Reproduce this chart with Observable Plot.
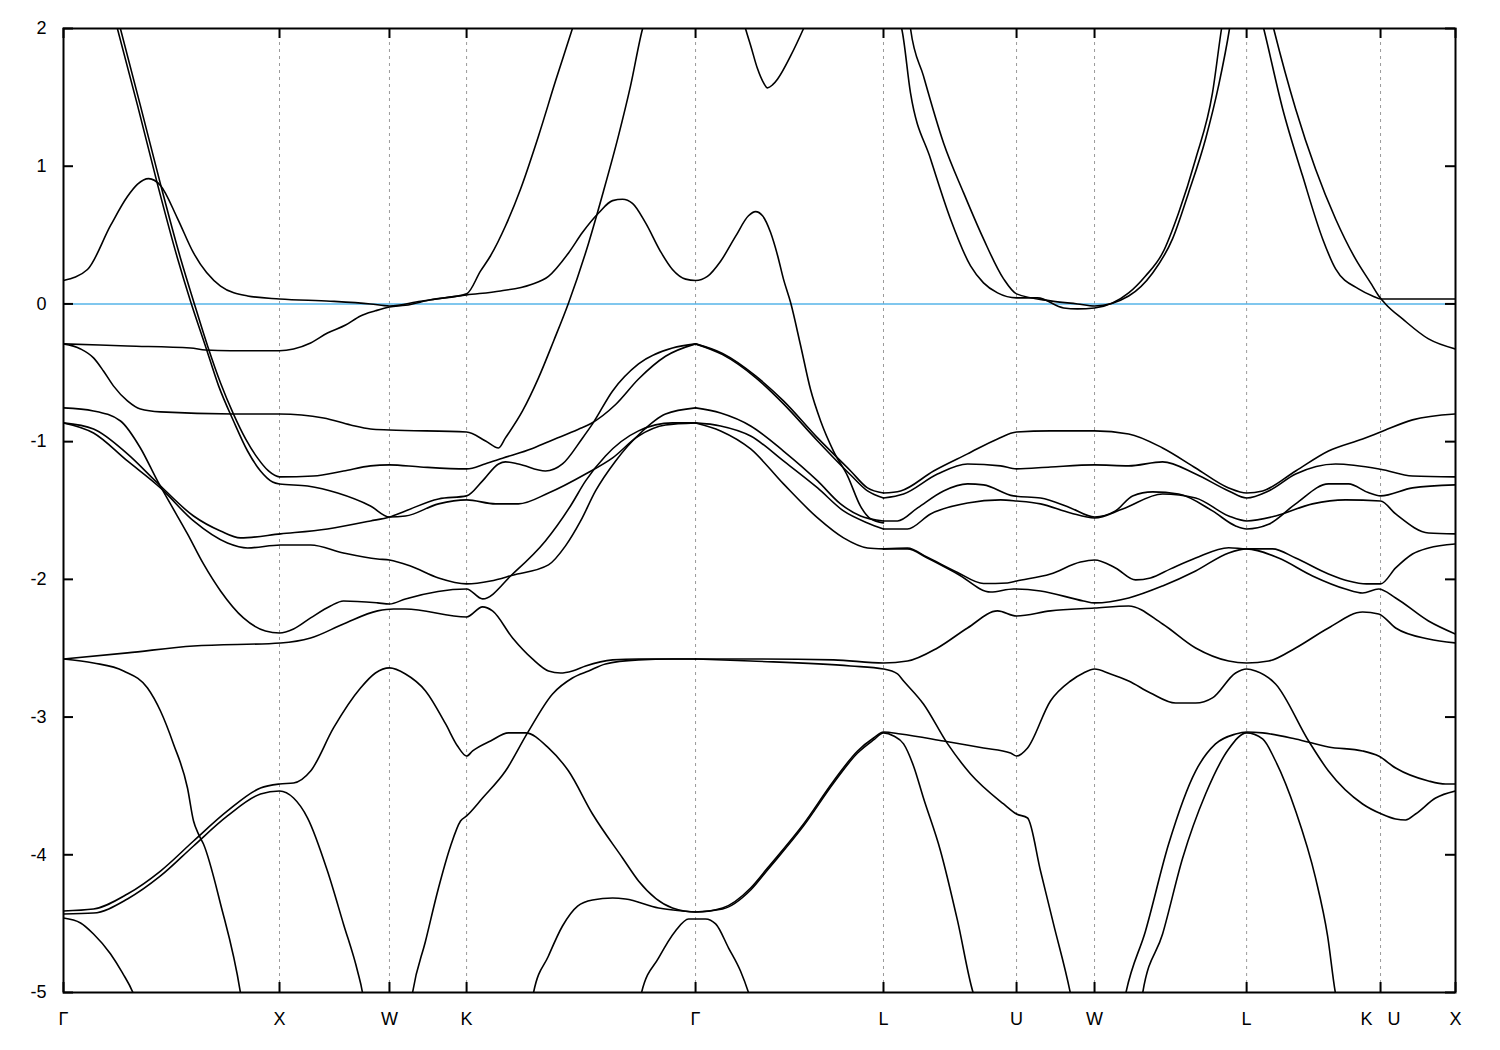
<!DOCTYPE html>
<html><head><meta charset="utf-8">
<script src="https://cdn.jsdelivr.net/npm/d3@7"></script>
<script src="https://cdn.jsdelivr.net/npm/@observablehq/plot@0.6"></script>
<style>body{margin:0;background:#fff;}</style>
</head><body><div id="chart"></div>
<script>
// High-symmetry points along the k-path (units of 2π/a) and labels
const kTicks = [0, 1.0, 1.509, 1.866, 2.926, 3.796, 4.412, 4.773, 5.477, 6.097, 6.444];
const kLabels = ["Γ","X","W","K","Γ","L","U","W","L","K\u00a0\u00a0\u00a0U","X"];
const eTicks = [-5,-4,-3,-2,-1,0,1,2];
const fermiLevel = [0];

// Bands: [k, E (eV)]
const L1 = [[0,0.17],[0.111,0.25],[0.218,0.57],[0.296,0.78],[0.343,0.87],[0.394,0.91],[0.449,0.86],[0.528,0.62],[0.602,0.37],[0.727,0.13],[0.852,0.058],[1.0,0.036],[1.236,0.02],[1.421,0.0],[1.509,-0.015],[1.653,0.02],[1.792,0.05],[1.866,0.065],[2.023,0.094],[2.162,0.14],[2.245,0.2],[2.338,0.37],[2.403,0.52],[2.477,0.66],[2.542,0.75],[2.588,0.76],[2.634,0.73],[2.694,0.59],[2.764,0.38],[2.819,0.25],[2.88,0.18],[2.926,0.17],[2.981,0.2],[3.042,0.31],[3.111,0.49],[3.171,0.64],[3.204,0.67],[3.236,0.64],[3.273,0.52],[3.306,0.35],[3.333,0.18],[3.366,0.01],[3.412,-0.3],[3.458,-0.62],[3.505,-0.85],[3.565,-1.07],[3.63,-1.25],[3.69,-1.47],[3.736,-1.56],[3.796,-1.59]];
const S1 = [[0.255,2.05],[0.356,1.44],[0.449,0.87],[0.542,0.33],[0.602,0.02],[0.667,-0.305],[0.727,-0.574],[0.787,-0.8],[0.843,-0.98],[0.898,-1.118],[0.949,-1.213],[1.0,-1.256],[1.157,-1.249],[1.296,-1.213],[1.421,-1.176],[1.509,-1.169],[1.653,-1.184],[1.866,-1.198],[1.954,-1.16],[2.032,-1.12],[2.171,-1.05],[2.245,-1.0],[2.384,-0.91],[2.44,-0.87],[2.556,-0.73],[2.662,-0.545],[2.787,-0.38],[2.926,-0.29]];
const S2 = [[0.241,2.05],[0.343,1.44],[0.435,0.87],[0.528,0.33],[0.588,0.02],[0.657,-0.305],[0.718,-0.595],[0.787,-0.85],[0.852,-1.068],[0.912,-1.213],[0.968,-1.293],[1.0,-1.307],[1.13,-1.322],[1.269,-1.373],[1.421,-1.467],[1.509,-1.547],[1.583,-1.54],[1.736,-1.452],[1.866,-1.423],[2.0,-1.452],[2.106,-1.452],[2.245,-1.373],[2.417,-1.235],[2.542,-1.118],[2.662,-0.959],[2.787,-0.879],[2.926,-0.864]];
const F1 = [[0,-0.29],[0.296,-0.305],[0.588,-0.32],[0.657,-0.334],[0.773,-0.34],[1.0,-0.34],[1.065,-0.327],[1.144,-0.283],[1.222,-0.211],[1.306,-0.153],[1.375,-0.087],[1.444,-0.05],[1.509,-0.022],[1.583,-0.01],[1.699,0.03],[1.866,0.073],[1.931,0.24],[1.977,0.35],[2.046,0.566],[2.116,0.835],[2.199,1.22],[2.278,1.62],[2.356,2.0],[2.366,2.05]];
const G1 = [[0,-0.29],[0.079,-0.327],[0.139,-0.392],[0.185,-0.487],[0.231,-0.595],[0.296,-0.704],[0.356,-0.763],[0.449,-0.784],[0.787,-0.799],[1.0,-0.799],[1.204,-0.828],[1.329,-0.879],[1.421,-0.908],[1.509,-0.915],[1.866,-0.93],[1.954,-0.995],[2.014,-1.046],[2.046,-0.973],[2.125,-0.777],[2.199,-0.537],[2.269,-0.269],[2.338,0.007],[2.431,0.443],[2.5,0.82],[2.569,1.22],[2.625,1.583],[2.681,2.0],[2.69,2.05]];
const M1 = [[0,-0.755],[0.139,-0.777],[0.264,-0.85],[0.356,-1.046],[0.435,-1.285],[0.495,-1.452],[0.574,-1.67],[0.648,-1.888],[0.727,-2.084],[0.833,-2.28],[0.935,-2.375],[1.0,-2.389],[1.065,-2.36],[1.144,-2.28],[1.236,-2.193],[1.296,-2.157],[1.454,-2.171],[1.509,-2.179],[1.583,-2.142],[1.866,-2.07],[1.94,-2.142],[2.079,-1.961],[2.231,-1.721],[2.347,-1.467],[2.417,-1.285],[2.509,-1.104],[2.662,-0.922],[2.819,-0.864],[2.926,-0.864]];
const N1 = [[0,-0.864],[0.139,-0.908],[0.296,-1.089],[0.435,-1.3],[0.602,-1.54],[0.727,-1.649],[0.819,-1.699],[1.005,-1.67],[1.222,-1.634],[1.421,-1.576],[1.509,-1.547],[1.583,-1.503],[1.736,-1.416],[1.866,-1.394],[1.94,-1.285],[2.014,-1.162],[2.046,-1.147],[2.106,-1.162],[2.231,-1.213],[2.31,-1.162],[2.403,-0.973],[2.449,-0.871],[2.542,-0.632],[2.662,-0.436],[2.819,-0.32],[2.926,-0.29]];
const N2 = [[0,-0.864],[0.139,-0.937],[0.296,-1.14],[0.449,-1.336],[0.602,-1.576],[0.759,-1.736],[0.852,-1.772],[1.005,-1.75],[1.144,-1.75],[1.296,-1.808],[1.454,-1.852],[1.509,-1.859],[1.606,-1.903],[1.736,-1.99],[1.866,-2.033],[1.977,-2.012],[2.079,-1.97],[2.245,-1.895],[2.324,-1.757],[2.394,-1.576],[2.463,-1.358],[2.556,-1.14],[2.671,-0.937],[2.787,-0.799],[2.926,-0.755]];
const FL = [[0,-2.578],[0.296,-2.534],[0.602,-2.484],[1.005,-2.462],[1.144,-2.426],[1.296,-2.324],[1.454,-2.229],[1.528,-2.215],[1.583,-2.215],[1.866,-2.273],[1.94,-2.2],[1.986,-2.229],[2.079,-2.426],[2.171,-2.578],[2.245,-2.665],[2.301,-2.68],[2.356,-2.665],[2.417,-2.629],[2.542,-2.585],[2.662,-2.578],[2.926,-2.578]];
const D1 = [[0,-2.578],[0.139,-2.607],[0.278,-2.665],[0.389,-2.789],[0.449,-2.956],[0.509,-3.195],[0.574,-3.515],[0.602,-3.755],[0.625,-3.85],[0.648,-3.922],[0.727,-4.357],[0.819,-5.0],[0.824,-5.05]];
const P1 = [[0,-4.408],[0.139,-4.394],[0.296,-4.285],[0.449,-4.118],[0.602,-3.9],[0.759,-3.682],[0.912,-3.515],[1.0,-3.486],[1.065,-3.479],[1.144,-3.392],[1.25,-3.079],[1.375,-2.789],[1.444,-2.68],[1.509,-2.643],[1.583,-2.687],[1.676,-2.81],[1.769,-3.05],[1.824,-3.21],[1.866,-3.283],[1.894,-3.246],[1.977,-3.174],[2.06,-3.115],[2.139,-3.115],[2.245,-3.224],[2.338,-3.392],[2.449,-3.704],[2.588,-4.023],[2.662,-4.19],[2.819,-4.386],[2.926,-4.415],[3.051,-4.386],[3.181,-4.241],[3.259,-4.096],[3.426,-3.776],[3.565,-3.464],[3.676,-3.246],[3.75,-3.152],[3.796,-3.108],[3.875,-3.123],[4.074,-3.174],[4.259,-3.224],[4.384,-3.261],[4.412,-3.283],[4.463,-3.224],[4.569,-2.883],[4.662,-2.738],[4.722,-2.68],[4.773,-2.651],[4.847,-2.687],[4.931,-2.738],[5.032,-2.825],[5.148,-2.898],[5.241,-2.898],[5.319,-2.861],[5.426,-2.68],[5.477,-2.651],[5.519,-2.665],[5.611,-2.76],[5.764,-3.174],[5.856,-3.392],[6.014,-3.631],[6.102,-3.704],[6.167,-3.74],[6.213,-3.747],[6.259,-3.704],[6.352,-3.588],[6.444,-3.537]];
const P2 = [[0,-4.43],[0.139,-4.423],[0.296,-4.321],[0.449,-4.154],[0.602,-3.936],[0.759,-3.718],[0.912,-3.559],[1.0,-3.537],[1.065,-3.588],[1.13,-3.733],[1.222,-4.118],[1.296,-4.502],[1.361,-4.844],[1.384,-5.0],[1.389,-5.05]];
const R1 = [[1.611,-5.05],[1.616,-5.0],[1.676,-4.626],[1.736,-4.241],[1.792,-3.936],[1.838,-3.755],[1.866,-3.718],[1.94,-3.588],[2.046,-3.392],[2.148,-3.115],[2.264,-2.832],[2.356,-2.716],[2.431,-2.665],[2.509,-2.614],[2.662,-2.585],[2.819,-2.578],[2.926,-2.578]];
const Q1 = [[2.171,-5.05],[2.176,-5.0],[2.245,-4.735],[2.31,-4.517],[2.38,-4.372],[2.449,-4.328],[2.542,-4.314],[2.602,-4.321],[2.755,-4.386],[2.866,-4.408],[2.926,-4.415],[3.051,-4.394],[3.181,-4.256],[3.259,-4.11],[3.426,-3.79],[3.565,-3.479],[3.676,-3.261],[3.75,-3.166],[3.796,-3.115],[3.843,-3.137],[3.889,-3.195],[3.935,-3.355],[3.981,-3.588],[4.06,-3.972],[4.139,-4.48],[4.213,-5.011],[4.222,-5.05]];
const GC = [[2.671,-5.05],[2.676,-5.0],[2.755,-4.749],[2.833,-4.553],[2.894,-4.466],[2.935,-4.466],[2.972,-4.466],[3.019,-4.502],[3.079,-4.677],[3.134,-4.844],[3.171,-5.0],[3.181,-5.05]];
const B45 = [[0,-4.459],[0.079,-4.495],[0.139,-4.575],[0.218,-4.72],[0.273,-4.858],[0.324,-5.011],[0.333,-5.05]];
const TOPR = [[3.148,2.05],[3.157,2.0],[3.181,1.877],[3.213,1.707],[3.241,1.605],[3.259,1.569],[3.282,1.59],[3.306,1.634],[3.366,1.801],[3.426,2.0],[3.44,2.05]];
const TA = [[3.87,2.05],[3.88,2.0],[3.921,1.532],[4.014,1.053],[4.106,0.617],[4.199,0.276],[4.259,0.153],[4.324,0.08],[4.412,0.044],[4.509,0.044],[4.63,-0.029],[4.694,-0.036],[4.773,-0.029],[4.856,0.007],[4.931,0.08],[5.009,0.203],[5.088,0.37],[5.162,0.661],[5.241,1.053],[5.319,1.532],[5.361,2.0],[5.366,2.05]];
const TB = [[3.917,2.05],[3.921,2.0],[3.981,1.656],[4.074,1.169],[4.167,0.806],[4.259,0.472],[4.352,0.182],[4.412,0.073],[4.569,0.022],[4.694,0.0],[4.773,-0.015],[4.931,0.058],[5.042,0.225],[5.134,0.472],[5.208,0.806],[5.287,1.198],[5.347,1.583],[5.398,2.0],[5.403,2.05]];
const TC = [[5.548,2.05],[5.556,2.0],[5.644,1.416],[5.736,0.93],[5.829,0.472],[5.889,0.254],[5.995,0.109],[6.06,0.058],[6.1,0.036],[6.444,0.036]];
const TD = [[5.594,2.05],[5.602,2.0],[5.704,1.416],[5.796,0.98],[5.889,0.617],[5.981,0.327],[6.051,0.153],[6.088,0.06],[6.12,0.0],[6.199,-0.109],[6.319,-0.254],[6.444,-0.327]];
const DA = [[2.926,-0.29],[3.051,-0.36],[3.204,-0.523],[3.333,-0.704],[3.491,-0.973],[3.644,-1.213],[3.722,-1.336],[3.796,-1.373]];
const DB = [[2.926,-0.29],[3.051,-0.368],[3.204,-0.535],[3.333,-0.726],[3.491,-0.995],[3.644,-1.242],[3.722,-1.358],[3.796,-1.409]];
const DC = [[2.926,-0.755],[3.042,-0.792],[3.181,-0.886],[3.333,-1.068],[3.491,-1.285],[3.597,-1.452],[3.69,-1.54],[3.796,-1.576]];
const DD = [[2.926,-0.864],[3.042,-0.886],[3.181,-0.959],[3.333,-1.14],[3.491,-1.336],[3.611,-1.503],[3.722,-1.59],[3.796,-1.634]];
const DE = [[2.926,-0.864],[3.042,-0.922],[3.181,-1.053],[3.333,-1.307],[3.491,-1.554],[3.611,-1.699],[3.722,-1.772],[3.796,-1.779]];
const LA = [[3.796,-1.373],[3.875,-1.358],[4.028,-1.213],[4.185,-1.089],[4.324,-0.98],[4.412,-0.93],[4.569,-0.922],[4.773,-0.922],[4.931,-0.944],[5.088,-1.046],[5.241,-1.191],[5.394,-1.336],[5.477,-1.373],[5.551,-1.358],[5.704,-1.213],[5.856,-1.068],[6.014,-0.98],[6.097,-0.93],[6.245,-0.842],[6.444,-0.799]];
const LB = [[3.796,-1.409],[3.889,-1.38],[4.046,-1.235],[4.185,-1.162],[4.338,-1.176],[4.412,-1.198],[4.569,-1.184],[4.773,-1.169],[4.931,-1.176],[5.088,-1.147],[5.241,-1.235],[5.394,-1.358],[5.477,-1.409],[5.579,-1.358],[5.704,-1.235],[5.889,-1.162],[6.097,-1.2],[6.245,-1.249],[6.444,-1.256]];
const LC = [[3.796,-1.576],[3.861,-1.576],[3.954,-1.481],[4.074,-1.358],[4.185,-1.307],[4.259,-1.314],[4.398,-1.394],[4.523,-1.409],[4.662,-1.481],[4.773,-1.547],[4.87,-1.503],[4.949,-1.394],[5.042,-1.365],[5.162,-1.38],[5.319,-1.503],[5.426,-1.612],[5.477,-1.634],[5.579,-1.6],[5.704,-1.452],[5.856,-1.307],[5.949,-1.307],[6.04,-1.37],[6.097,-1.394],[6.245,-1.336],[6.444,-1.314]];
const LD = [[3.796,-1.634],[3.907,-1.634],[4.014,-1.525],[4.185,-1.445],[4.338,-1.423],[4.412,-1.431],[4.523,-1.452],[4.662,-1.518],[4.773,-1.554],[4.903,-1.489],[5.088,-1.38],[5.241,-1.409],[5.394,-1.54],[5.477,-1.576],[5.611,-1.54],[5.782,-1.452],[5.935,-1.423],[6.097,-1.431],[6.167,-1.525],[6.319,-1.663],[6.444,-1.67]];
const LE = [[3.796,-1.779],[3.907,-1.772],[3.999,-1.84],[4.139,-1.95],[4.259,-2.03],[4.37,-2.026],[4.412,-2.012],[4.569,-1.961],[4.708,-1.874],[4.773,-1.859],[4.87,-1.917],[4.963,-2.004],[5.032,-1.99],[5.125,-1.924],[5.241,-1.845],[5.394,-1.77],[5.477,-1.779],[5.597,-1.779],[5.704,-1.845],[5.856,-1.961],[5.949,-2.012],[6.032,-2.033],[6.097,-2.033],[6.167,-1.917],[6.245,-1.816],[6.319,-1.772],[6.444,-1.743]];
const LF = [[3.796,-1.779],[3.907,-1.779],[3.999,-1.845],[4.139,-1.961],[4.292,-2.092],[4.398,-2.07],[4.523,-2.084],[4.722,-2.157],[4.773,-2.171],[4.931,-2.135],[5.088,-2.048],[5.241,-1.939],[5.394,-1.808],[5.477,-1.779],[5.625,-1.845],[5.782,-1.975],[5.935,-2.07],[6.014,-2.099],[6.088,-2.07],[6.167,-2.135],[6.319,-2.302],[6.444,-2.397]];
const U1 = [[2.926,-2.578],[3.181,-2.578],[3.565,-2.585],[3.796,-2.607],[3.907,-2.593],[4.046,-2.498],[4.185,-2.353],[4.324,-2.229],[4.412,-2.266],[4.569,-2.229],[4.773,-2.208],[4.931,-2.193],[5.088,-2.324],[5.241,-2.498],[5.394,-2.593],[5.477,-2.607],[5.579,-2.593],[5.704,-2.498],[5.856,-2.353],[6.014,-2.237],[6.088,-2.251],[6.167,-2.353],[6.319,-2.433],[6.444,-2.462]];
const U2 = [[2.926,-2.578],[3.181,-2.593],[3.644,-2.629],[3.796,-2.651],[3.861,-2.687],[3.889,-2.738],[3.981,-2.905],[4.093,-3.195],[4.199,-3.413],[4.352,-3.631],[4.412,-3.704],[4.463,-3.733],[4.523,-4.118],[4.583,-4.502],[4.662,-5.011],[4.667,-5.05]];
const RA = [[4.912,-5.05],[4.917,-5.011],[5.009,-4.553],[5.116,-3.922],[5.241,-3.392],[5.333,-3.195],[5.426,-3.123],[5.477,-3.108],[5.551,-3.115],[5.704,-3.159],[5.856,-3.217],[6.014,-3.246],[6.088,-3.283],[6.167,-3.37],[6.319,-3.464],[6.398,-3.486],[6.444,-3.486]];
const RB = [[4.991,-5.05],[4.995,-5.011],[5.088,-4.575],[5.181,-4.023],[5.287,-3.559],[5.394,-3.232],[5.477,-3.115],[5.551,-3.159],[5.611,-3.319],[5.704,-3.682],[5.796,-4.168],[5.852,-4.59],[5.889,-5.011],[5.894,-5.05]];

const bandTable = Object.entries({L1,S1,S2,F1,G1,M1,N1,N2,FL,D1,P1,P2,R1,Q1,GC,B45,TOPR,TA,TB,TC,TD,DA,DB,DC,DD,DE,LA,LB,LC,LD,LE,LF,U1,U2,RA,RB})
  .flatMap(([id, pts]) => pts.map(([k, E]) => ({id, k, E})));

const W = 1500, H = 1050, mL = 63, mR = 45, mT = 28, mB = 58;
const innerW = W - mL - mR, innerH = H - mT - mB;
const labelOf = new Map(kTicks.map((k, i) => [k, kLabels[i]]));
const tickLen = 10;

const chart = Plot.plot({
  width: W, height: H,
  marginLeft: mL, marginRight: mR, marginTop: mT, marginBottom: mB,
  style: {fontFamily: "'Liberation Sans', Arial, sans-serif", fontSize: "18px", background: "#fff", color: "#000", overflow: "visible"},
  x: {domain: [kTicks[0], kTicks[kTicks.length - 1]], label: null},
  y: {domain: [-5, 2], label: null},
  marks: [
    Plot.ruleX(kTicks.slice(1, -1), {stroke: "#9a9a9a", strokeWidth: 1, strokeDasharray: "3,4"}),
    Plot.ruleY(fermiLevel, {stroke: "#56B4E9", strokeWidth: 1.6}),
    Plot.line(bandTable, {x: "k", y: "E", z: "id", stroke: "#000", strokeWidth: 1.6, curve: "monotone-x", clip: true}),
    Plot.frame({stroke: "#000", strokeWidth: 2}),
    Plot.ruleX(kTicks, {insetBottom: innerH - tickLen, stroke: "#000", strokeWidth: 2}),
    Plot.ruleX(kTicks, {insetTop: innerH - tickLen, stroke: "#000", strokeWidth: 2}),
    Plot.ruleY(eTicks, {insetRight: innerW - tickLen, stroke: "#000", strokeWidth: 2}),
    Plot.ruleY(eTicks, {insetLeft: innerW - tickLen, stroke: "#000", strokeWidth: 2}),
    Plot.axisX(kTicks, {anchor: "bottom", tickSize: 0, tickPadding: 20, tickFormat: d => labelOf.get(d), fontSize: 18}),
    Plot.axisY(eTicks, {anchor: "left", tickSize: 0, tickPadding: 17, tickFormat: d => String(d), fontSize: 18})
  ]
});
document.getElementById("chart").appendChild(chart);
</script>
</body></html>
